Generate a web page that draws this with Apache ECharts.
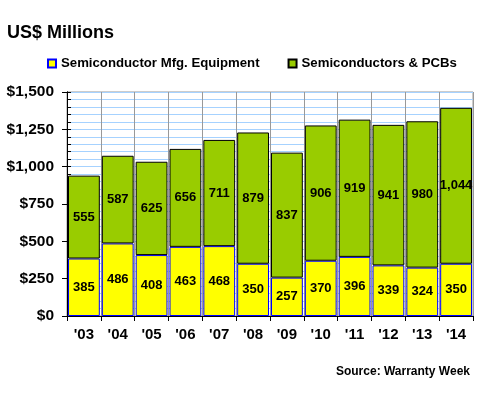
<!DOCTYPE html>
<html>
<head>
<meta charset="utf-8">
<script src="https://cdn.jsdelivr.net/npm/echarts@6/dist/echarts.min.js"></script>
<style>html,body{margin:0;padding:0;background:#fff}#c{width:480px;height:400px}</style>
</head>
<body>
<div id="c"></div>
<script>
const categories = ["'03","'04","'05","'06","'07","'08","'09","'10","'11","'12","'13","'14"];
const equipment = [385,486,408,463,468,350,257,370,396,339,324,350];
const semis = [555,587,625,656,711,879,837,906,919,941,980,1044];
const seriesNames = ['Semiconductor Mfg. Equipment','Semiconductors & PCBs'];

const fmt = v => v.toLocaleString('en-US');
const FONT = 'Arial, "Liberation Sans", sans-serif';

const chart = echarts.init(document.getElementById('c'), null, {renderer:'canvas'});
chart.setOption({
  animation:false,
  textStyle:{fontFamily:FONT},
  title:[
    {text:'US$ Millions', left:7, top:24, padding:0,
     textStyle:{fontSize:18, fontWeight:'bold', color:'#000', fontFamily:FONT}},
    {text:'Source: Warranty Week', right:10, top:366, padding:0,
     textStyle:{fontSize:12, fontWeight:'bold', color:'#000', fontFamily:FONT}}
  ],
  legend:{
    left:47, top:57, padding:0, itemGap:28, itemWidth:8, itemHeight:8,
    icon:'rect',
    textStyle:{fontSize:13.2, fontWeight:'bold', color:'#000', fontFamily:FONT},
    data:seriesNames
  },
  grid:{left:67, right:7, top:92, bottom:84, show:true, borderColor:'#999', borderWidth:1, backgroundColor:'transparent'},
  xAxis:{
    type:'category', data:categories,
    axisLine:{lineStyle:{color:'#000', width:1}},
    axisTick:{show:true, length:5, lineStyle:{color:'#000'}},
    splitLine:{show:true, lineStyle:{color:'#999', width:1}},
    axisLabel:{fontSize:15, fontWeight:'bold', color:'#000', margin:11, fontFamily:FONT}
  },
  yAxis:[
    {type:'value', min:0, max:1500, interval:50, position:'left',
     axisLine:{show:true, lineStyle:{color:'#000'}},
     axisTick:{show:true, inside:true, length:4, lineStyle:{color:'#000'}},
     axisLabel:{show:false},
     splitLine:{show:true, lineStyle:{color:'#a6d2ff', width:1}}},
    {type:'value', min:0, max:1500, interval:250, position:'left', offset:0,
     axisLine:{show:true, lineStyle:{color:'#000'}},
     axisTick:{show:true, length:5, lineStyle:{color:'#000'}},
     axisLabel:{fontSize:15.5, fontWeight:'bold', color:'#000', margin:13, fontFamily:FONT,
       formatter:v => '$' + fmt(v)},
     splitLine:{show:false}}
  ],
  series:[
    {name:seriesNames[0], type:'bar', stack:'t', data:equipment, yAxisIndex:0,
     barCategoryGap:'6%',
     itemStyle:{color:'#ffff00', borderColor:'#0000ff', borderWidth:1},
     label:{show:true, position:'inside', color:'#000', fontSize:13, fontWeight:'bold', fontFamily:FONT, formatter:p => fmt(p.value)}},
    {name:seriesNames[1], type:'bar', stack:'t', data:semis, yAxisIndex:0,
     barCategoryGap:'6%',
     itemStyle:{color:'#99cc00', borderColor:'#000', borderWidth:1},
     label:{show:true, position:'inside', color:'#000', fontSize:13, fontWeight:'bold', fontFamily:FONT, formatter:p => fmt(p.value)}}
  ]
});
</script>
</body>
</html>
